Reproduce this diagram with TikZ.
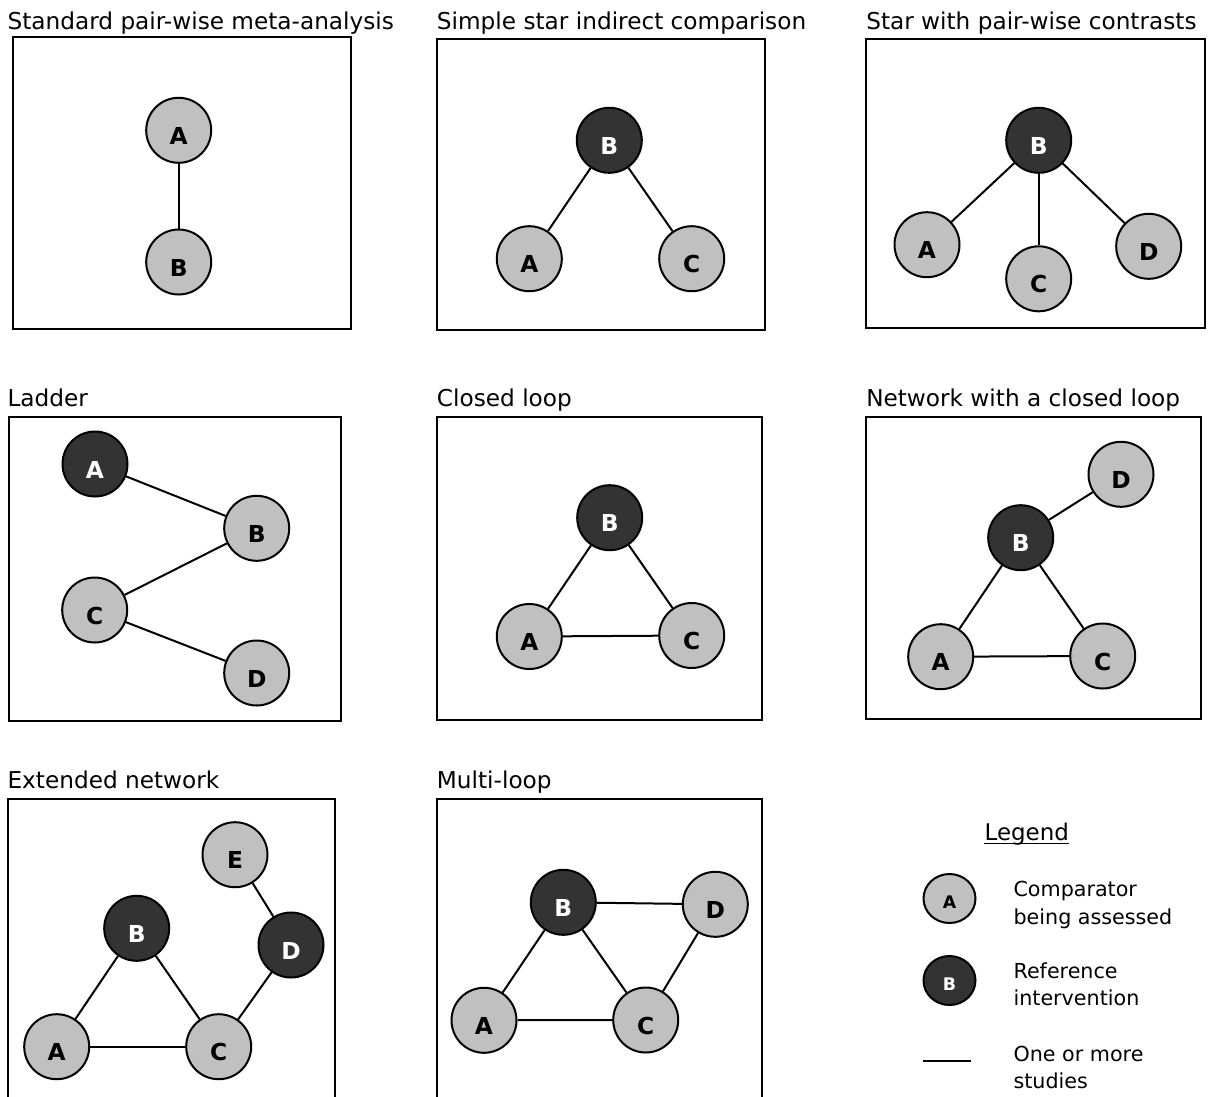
\documentclass[tikz,border=0pt]{standalone}
\usepackage{fontspec}
\setmainfont{DejaVu Sans}
\usetikzlibrary{shapes.geometric}
\definecolor{lgray}{HTML}{C0C0C0}
\definecolor{dgray}{HTML}{333333}
\begin{document}
\begin{tikzpicture}[x=0.75pt,y=-0.75pt,
  nd/.style={circle,draw=black,line width=1.5pt,minimum size=48.75pt,inner sep=0pt,text height=21pt,text depth=0pt,font=\fontsize{17.5}{20}\selectfont\bfseries},
  lt/.style={nd,fill=lgray,text=black},
  dk/.style={nd,fill=dgray,text=white},
  lgnd/.style={ellipse,draw=black,line width=1.5pt,minimum width=39pt,minimum height=36.75pt,inner sep=0pt,text height=15.5pt,text depth=0pt,font=\fontsize{13}{15}\selectfont\bfseries},
  frame/.style={draw=black,line width=1.5pt},
  ttl/.style={anchor=base west,inner sep=0pt,font=\fontsize{17.4}{20}\selectfont},
  lgtxt/.style={anchor=base west,inner sep=0pt,font=\fontsize{15.5}{19}\selectfont},
  lnk/.style={draw=black,line width=1.5pt},
]
\useasboundingbox (0,0) rectangle (1208,1097);
\clip (0,0) rectangle (1208,1097);
\fill[white] (0,0) rectangle (1208,1097);

% ---------- Panel 1 ----------
\node[ttl] (t1) at (7.3,29.3) {Standard pair-wise meta-analysis};
\draw[frame] (12.7,36.7) rectangle (350.7,329);
\node[lt] (p1a) at (178.7,130.3) {A};
\node[lt] (p1b) at (178.7,262) {B};
\draw[lnk] (p1a) -- (p1b);

% ---------- Panel 2 ----------
\node[ttl] (t2) at (436.7,29.3) {Simple star indirect comparison};
\draw[frame] (437.3,39) rectangle (765,330);
\node[dk] (p2b) at (609.3,140.3) {B};
\node[lt] (p2a) at (529.3,258.7) {A};
\node[lt] (p2c) at (691.7,258.7) {C};
\draw[lnk] (p2b) -- (p2a);
\draw[lnk] (p2b) -- (p2c);

% ---------- Panel 3 ----------
\node[ttl] (t3) at (866,29.3) {Star with pair-wise contrasts};
\draw[frame] (866,39) rectangle (1204.5,328);
\node[dk] (p3b) at (1038.7,140.3) {B};
\node[lt] (p3a) at (927,244.7) {A};
\node[lt] (p3c) at (1038.7,278.8) {C};
\node[lt] (p3d) at (1148.7,246.3) {D};
\draw[lnk] (p3b) -- (p3a);
\draw[lnk] (p3b) -- (p3c);
\draw[lnk] (p3b) -- (p3d);

% ---------- Panel 4 ----------
\node[ttl] (t4) at (7.3,406) {Ladder};
\draw[frame] (8.7,416.7) rectangle (340.7,720.7);
\node[dk] (p4a) at (95,464) {A};
\node[lt] (p4b) at (256.7,528.3) {B};
\node[lt] (p4c) at (94.7,610) {C};
\node[lt] (p4d) at (256.7,673) {D};
\draw[lnk] (p4a) -- (p4b);
\draw[lnk] (p4b) -- (p4c);
\draw[lnk] (p4c) -- (p4d);

% ---------- Panel 5 ----------
\node[ttl] (t5) at (436.7,406) {Closed loop};
\draw[frame] (437.3,416.7) rectangle (761.7,720);
\node[dk] (p5b) at (609.7,517.7) {B};
\node[lt] (p5a) at (529.3,636.5) {A};
\node[lt] (p5c) at (691.7,635.5) {C};
\draw[lnk] (p5b) -- (p5a);
\draw[lnk] (p5b) -- (p5c);
\draw[lnk] (p5a) -- (p5c);

% ---------- Panel 6 ----------
\node[ttl] (t6) at (866,406) {Network with a closed loop};
\draw[frame] (866,416.7) rectangle (1200.7,719.3);
\node[lt] (p6d) at (1121,474.3) {D};
\node[dk] (p6b) at (1020.7,537.7) {B};
\node[lt] (p6a) at (940.7,656.7) {A};
\node[lt] (p6c) at (1102.7,656) {C};
\draw[lnk] (p6b) -- (p6d);
\draw[lnk] (p6b) -- (p6a);
\draw[lnk] (p6b) -- (p6c);
\draw[lnk] (p6a) -- (p6c);

% ---------- Panel 7 ----------
\node[ttl] (t7) at (7.3,788.3) {Extended network};
\draw[frame] (8.3,799) rectangle (335,1110);
\node[lt] (p7e) at (235,854.7) {E};
\node[dk] (p7b) at (136.7,928.3) {B};
\node[dk] (p7d) at (291,945) {D};
\node[lt] (p7a) at (56.7,1046.7) {A};
\node[lt] (p7c) at (218.7,1046.7) {C};
\draw[lnk] (p7e) -- (p7d);
\draw[lnk] (p7b) -- (p7a);
\draw[lnk] (p7b) -- (p7c);
\draw[lnk] (p7a) -- (p7c);
\draw[lnk] (p7c) -- (p7d);

% ---------- Panel 8 ----------
\node[ttl] (t8) at (436.7,788.3) {Multi-loop};
\draw[frame] (437.3,799) rectangle (761.7,1110);
\node[dk] (p8b) at (563.3,902.3) {B};
\node[lt] (p8d) at (715.3,904.3) {D};
\node[lt] (p8a) at (484,1020.3) {A};
\node[lt] (p8c) at (645.7,1020) {C};
\draw[lnk] (p8b) -- (p8d);
\draw[lnk] (p8b) -- (p8a);
\draw[lnk] (p8b) -- (p8c);
\draw[lnk] (p8a) -- (p8c);
\draw[lnk] (p8c) -- (p8d);

% ---------- Legend ----------
\node[anchor=base,inner sep=0pt,font=\fontsize{17.2}{20}\selectfont] (leg) at (1026.8,840.7) {Legend};
\draw[line width=1.2pt] ([yshift=-2.2pt]leg.base west) -- ([yshift=-2.2pt]leg.base east);
\node[lgnd,fill=lgray,text=black] (lga) at (949.5,898.5) {A};
\node[lgnd,fill=dgray,text=white] (lgb) at (949.5,980.5) {B};
\coordinate (lgl1) at (922.7,1061);
\coordinate (lgl2) at (970.7,1061);
\draw[lnk] (lgl1) -- (lgl2);
\node[lgtxt] (lt1) at (1013.3,896.7) {Comparator};
\node[lgtxt] (lt2) at (1013.3,924) {being assessed};
\node[lgtxt] (lt3) at (1013.3,978) {Reference};
\node[lgtxt] (lt4) at (1013.3,1005) {intervention};
\node[lgtxt] (lt5) at (1013.3,1061.7) {One or more};
\node[lgtxt] (lt6) at (1013.3,1088.5) {studies};
\end{tikzpicture}
\end{document}
